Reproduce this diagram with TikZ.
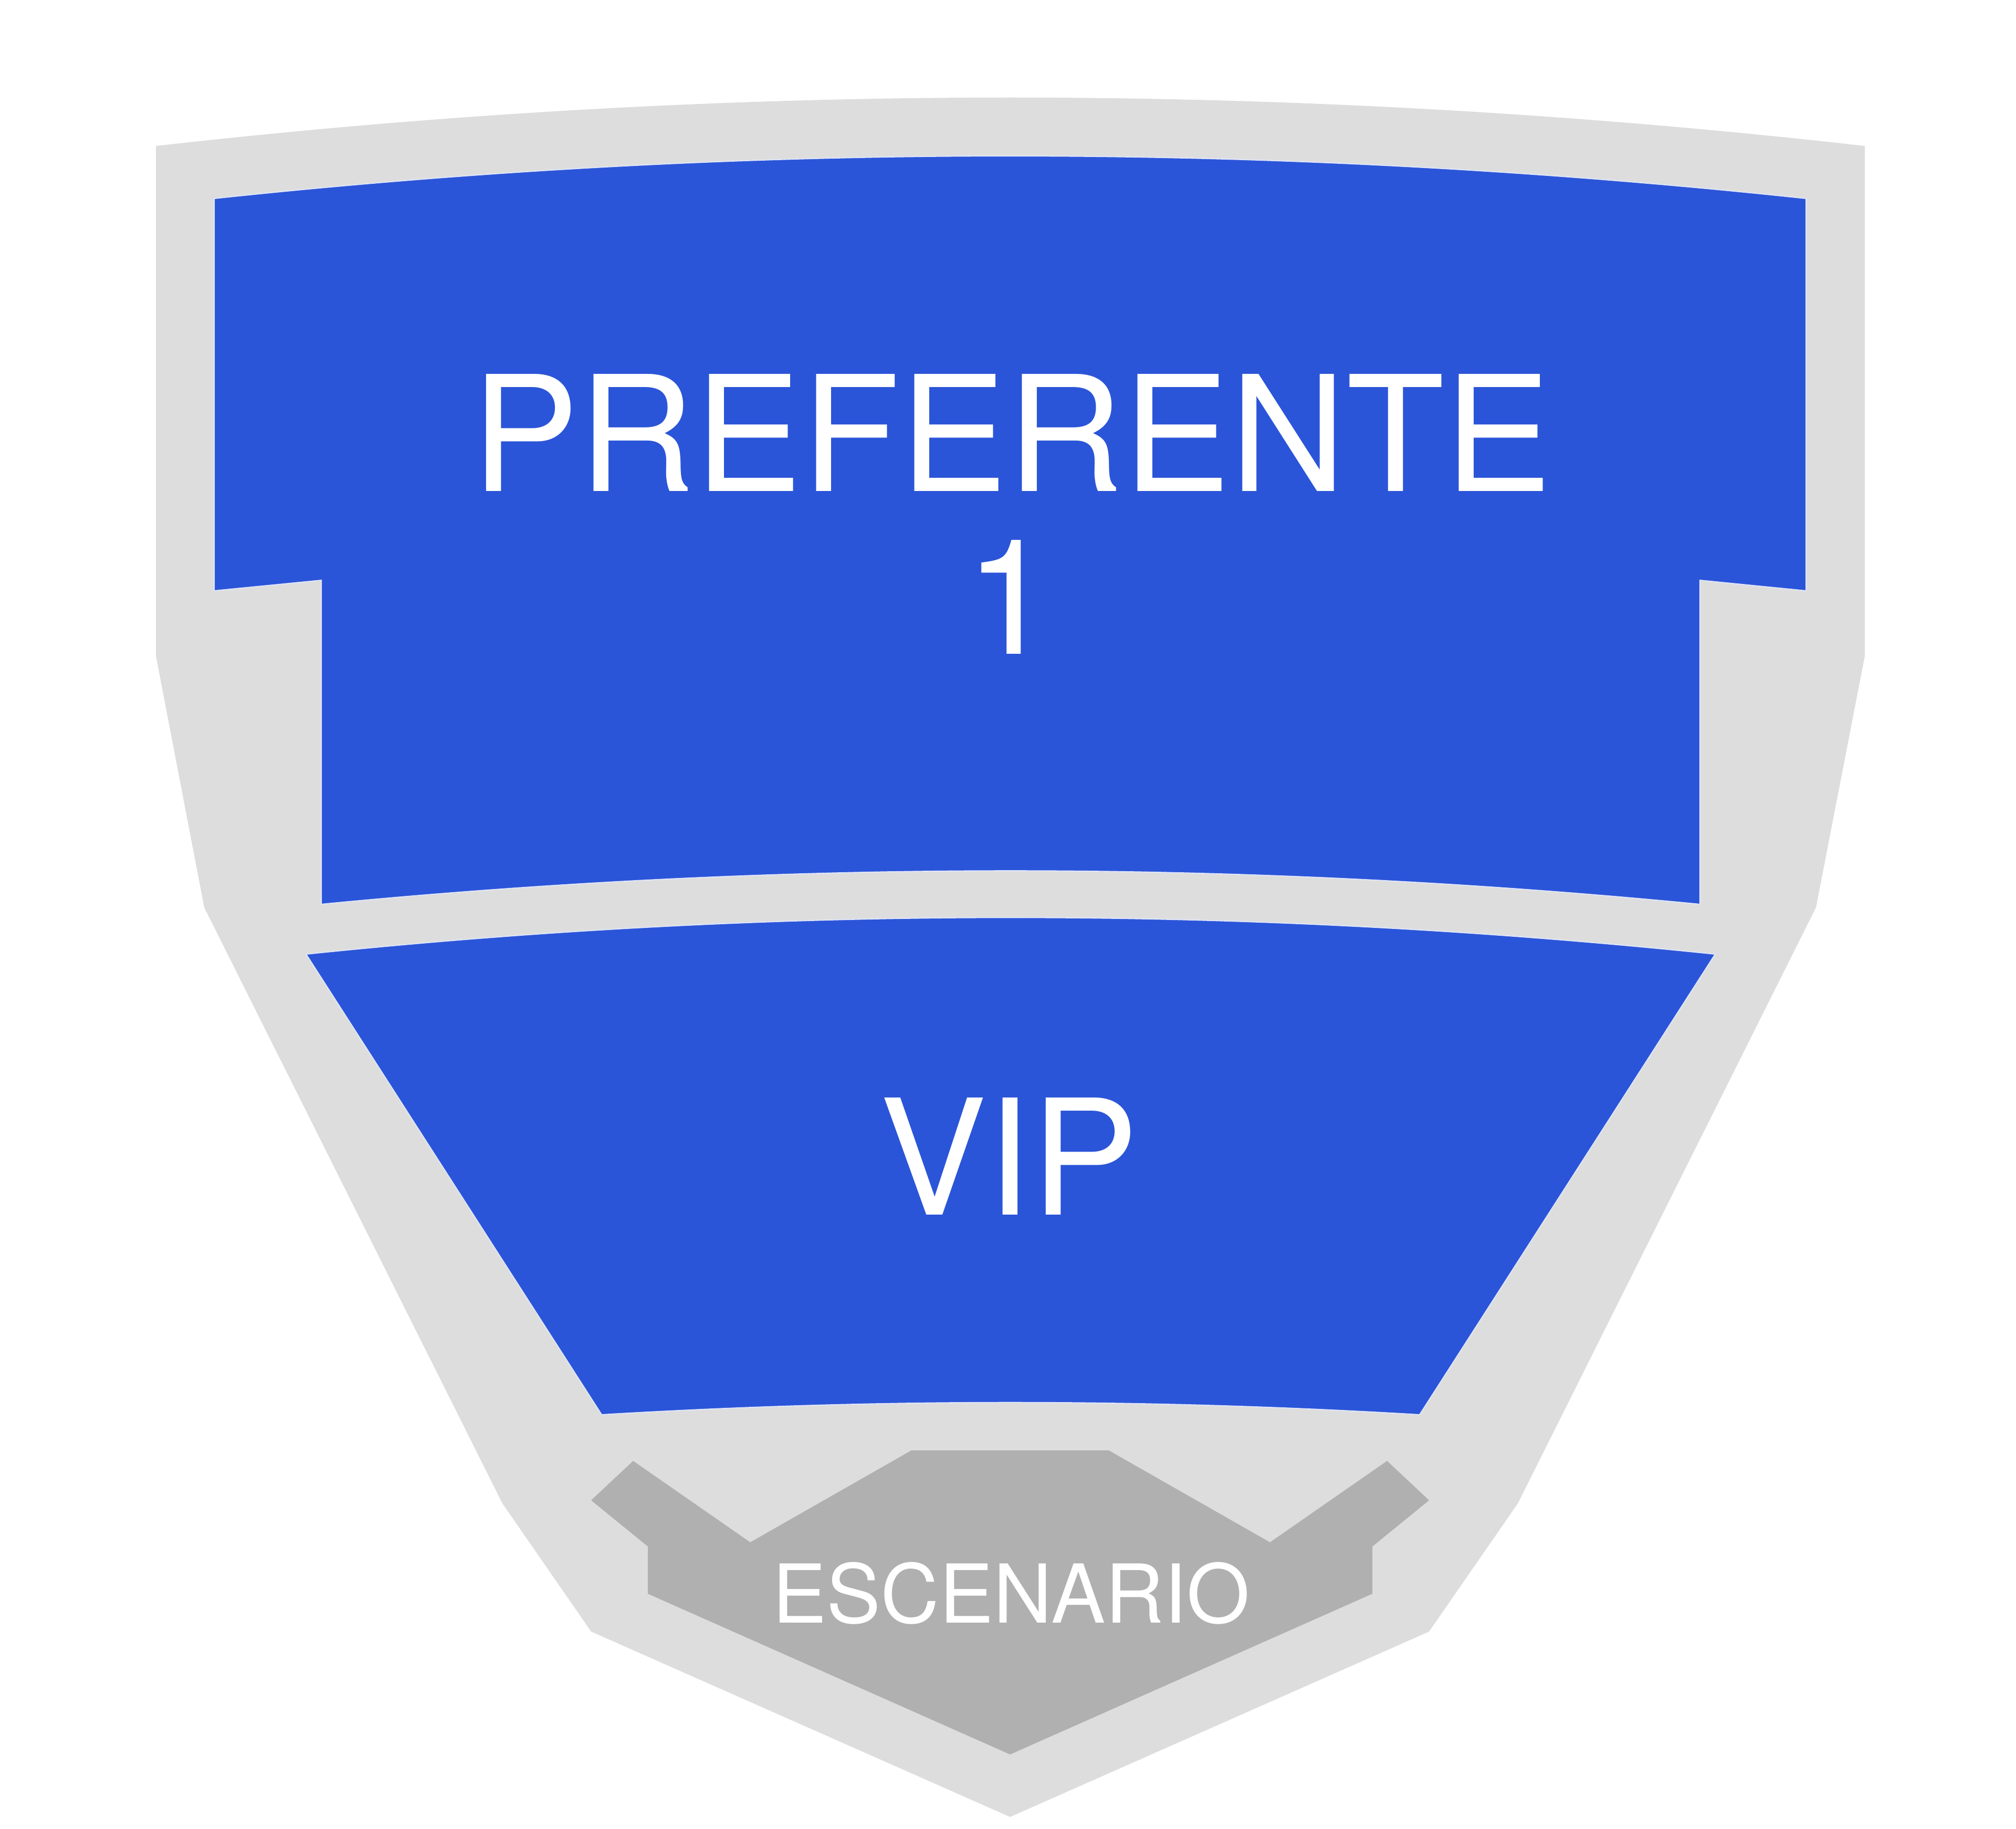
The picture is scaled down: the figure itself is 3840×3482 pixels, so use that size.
\documentclass[tikz,border=0pt]{standalone}
\usepackage{fontspec}
\setmainfont{TeX Gyre Heros}
\usepackage{tikz}

\definecolor{zoneblue}{RGB}{43,85,216}
\definecolor{hallgray}{RGB}{221,221,221}
\definecolor{stagegray}{RGB}{176,176,176}

\begin{document}
\begin{tikzpicture}[x=0.01cm, y=-0.01cm,
    zone/.style={fill=zoneblue, draw=zoneblue!15!white, line width=0.6pt, line join=miter},
    biglabel/.style={text=white, inner sep=0pt, anchor=base, font=\fontsize{87pt}{88pt}\selectfont},
    smalllabel/.style={text=white, inner sep=0pt, anchor=base, font=\fontsize{44pt}{46pt}\selectfont}]
    \useasboundingbox (0,0) rectangle (3840,3482);

    % outer hall
    \coordinate (HtopL) at (297,278);
    \coordinate (HtopR) at (3552,278);
    \fill[hallgray] (HtopL) .. controls (1382,155) and (2467,155) .. (HtopR)
        -- (3552,1249) -- (3459,1728) -- (2891,2863) -- (2722,3107)
        -- (1924,3460)
        -- (1126,3107) -- (957,2863) -- (389,1728) -- (297,1249) -- cycle;

    % preferente 1
    \coordinate (PtopL) at (408,378);
    \coordinate (PtopR) at (3440,378);
    \coordinate (PbotR) at (3238,1722);
    \coordinate (PbotL) at (612,1722);
    \draw[zone] (PtopL) .. controls (1419,270) and (2429,270) .. (PtopR)
        -- (3440,1125) -- (3238,1105) -- (PbotR)
        .. controls (2363,1637) and (1487,1637) .. (PbotL)
        -- (612,1105) -- (408,1125) -- cycle;

    % vip
    \coordinate (VtopL) at (583,1817);
    \coordinate (VtopR) at (3267,1817);
    \coordinate (VbotR) at (2704,2694);
    \coordinate (VbotL) at (1146,2694);
    \draw[zone] (VtopL) .. controls (1478,1724) and (2372,1724) .. (VtopR)
        -- (VbotR) .. controls (2185,2663) and (1665,2663) .. (VbotL) -- cycle;

    % stage
    \fill[stagegray] (1206,2782) -- (1429,2937) -- (1736,2762) -- (2112,2762)
        -- (2419,2937) -- (2642,2782) -- (2722,2857) -- (2614,2945)
        -- (2614,3035) -- (1924,3341) -- (1234,3035) -- (1234,2945)
        -- (1126,2857) -- cycle;

    \node[biglabel] (pref) at (1927,935) {PREFERENTE};
    \node[biglabel] (prefnum) at (1924,1245) {1};
    \node[biglabel] (vip) at (1922,2313) {VIP};
    \node[smalllabel] (stage) at (1926,3090) {ESCENARIO};
\end{tikzpicture}
\end{document}
